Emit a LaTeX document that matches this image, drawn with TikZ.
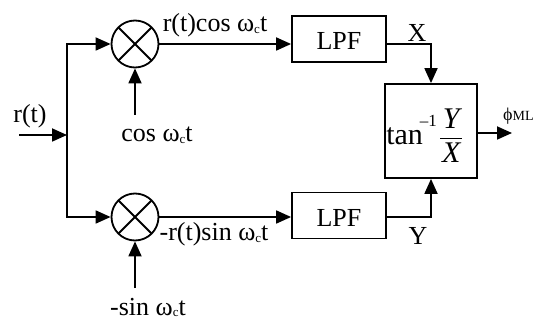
\documentclass[tikz,border=0pt]{standalone}
\usepackage{amsmath}
\usepackage{fontspec}
\setmainfont{Liberation Serif}
\usetikzlibrary{arrows.meta}
\newcommand{\omc}{ω\raisebox{-1.5pt}{\fontsize{13}{13}\selectfont c}}
\begin{document}
\begin{tikzpicture}[x=1pt,y=-1pt,
  every node/.style={font=\fontsize{26}{28}\selectfont, inner sep=0pt},
  wire/.style={line width=1.8pt},
  arr/.style={wire,-{Triangle[length=15pt,width=13pt]}},
  mult/.style={draw,circle,line width=1.8pt,minimum size=47pt,
    path picture={\draw[line width=1.8pt]
      (path picture bounding box.north west)--(path picture bounding box.south east)
      (path picture bounding box.north east)--(path picture bounding box.south west);}},
  block/.style={draw,line width=1.8pt,minimum width=94pt,text height=34pt,text depth=12pt},
  lbl/.style={anchor=base}]
\useasboundingbox (0,0) rectangle (543,320);
% blocks
\node[mult] (m1) at (135,44) {};
\node[mult] (m2) at (135,217) {};
\node[block] (lpf1) at (339,39) {LPF};
\node[block] (lpf2) at (339,215.5) {LPF};
\node[draw,line width=1.8pt,minimum width=92pt,text height=61pt,text depth=33pt] (atan) at (431,131)
  {\fontsize{30}{32}\selectfont tan\kern-3pt\raisebox{18pt}{\fontsize{17}{17}\selectfont –1}\kern2pt$\genfrac{}{}{1.3pt}{0}{\textit{Y}}{\kern2pt\textit{X}\kern2pt}$\hspace*{12pt}};
% coordinates
\coordinate (rin) at (19,135);
\coordinate (jn) at (67,135);
\coordinate (cin1) at (135,115);
\coordinate (cin2) at (135,288);
\coordinate (phout) at (512,133);
% connectors
\draw[arr] (rin) -- (jn);
\draw[arr] (jn) |- (m1.west);
\draw[arr] (jn) |- (m2.west);
\draw[arr] (cin1) -- (m1.south);
\draw[arr] (cin2) -- (m2.south);
\draw[arr] (m1.east) -- (m1.east -| lpf1.west);
\draw[arr] (m2.east) -- (m2.east -| lpf2.west);
\draw[arr] (m1.east -| lpf1.east) -| (atan.north);
\draw[arr] (m2.east -| lpf2.east) -| (atan.south);
\draw[arr] (phout -| atan.east) -- (phout);
% labels
\node[lbl] (lr) at (30,123) {r(t)};
\node[lbl] (l1) at (215,32) {r(t)cos \omc t};
\node[lbl] (l3) at (157,142) {cos \omc t};
\node[lbl] (l2) at (214,241) {-r(t)sin \omc t};
\node[lbl] (l4) at (148,315) {-sin \omc t};
\node[lbl] (lx) at (417,42) {X};
\node[lbl] (ly) at (418,245) {Y};
\node[anchor=base west] (lphi) at (503,121) {{\fontsize{18}{18}\selectfont ϕ}{\fontsize{14}{14}\selectfont ML}};
\end{tikzpicture}
\end{document}
